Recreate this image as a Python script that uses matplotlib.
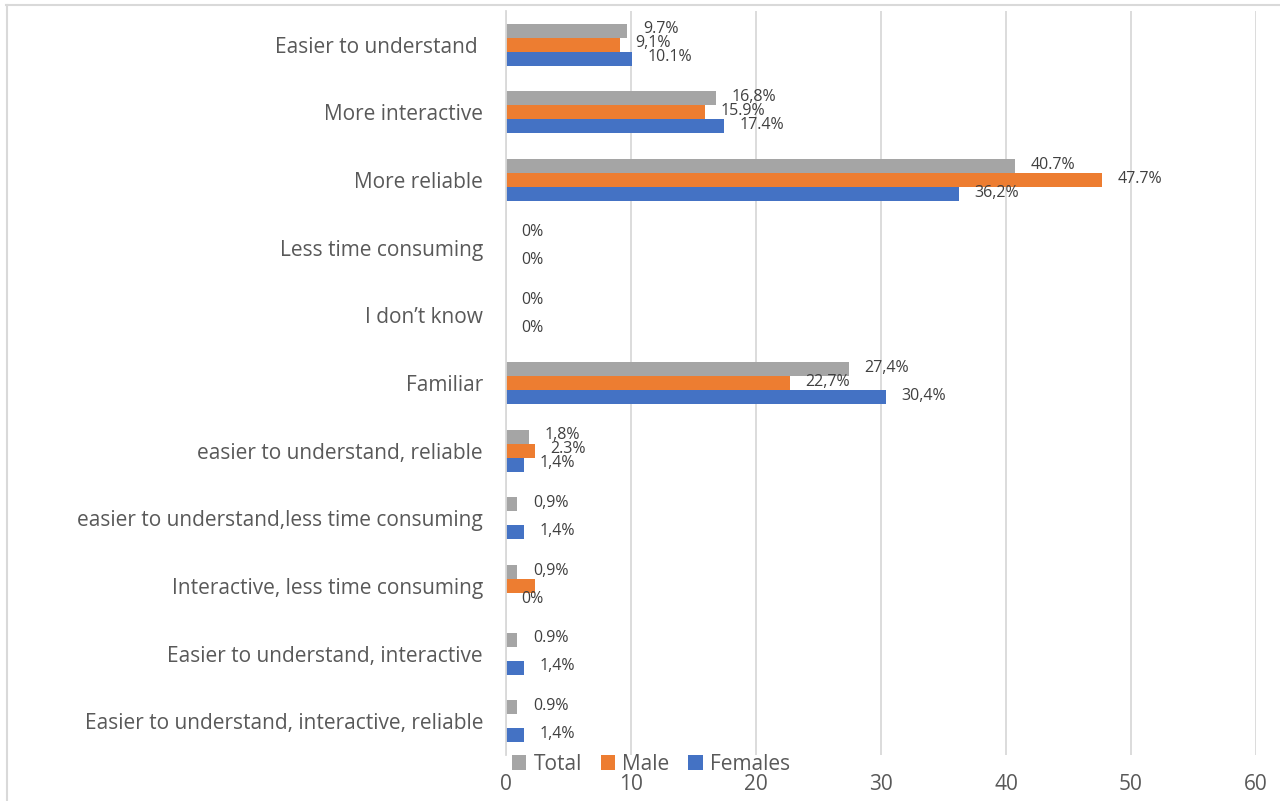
import numpy as np
import matplotlib.pyplot as plt

categories = [
    "Easier to understand ",
    "More interactive",
    "More reliable",
    "Less time consuming",
    "I don\u2019t know",
    "Familiar",
    "easier to understand, reliable",
    "easier to understand,less time consuming",
    "Interactive, less time consuming",
    "Easier to understand, interactive",
    "Easier to understand, interactive, reliable",
]

total = [9.7, 16.8, 40.7, 0, 0, 27.4, 1.8, 0.9, 0.9, 0.9, 0.9]
male = [9.1, 15.9, 47.7, np.nan, np.nan, 22.7, 2.3, np.nan, 2.3, np.nan, np.nan]
females = [10.1, 17.4, 36.2, 0, 0, 30.4, 1.4, 1.4, 0, 1.4, 1.4]

total_labels = ["9.7%", "16,8%", "40.7%", "0%", "0%", "27,4%", "1,8%", "0,9%", "0,9%", "0.9%", "0.9%"]
male_labels = ["9,1%", "15.9%", "47.7%", "", "", "22,7%", "2.3%", "", "", "", ""]
female_labels = ["10.1%", "17.4%", "36,2%", "0%", "0%", "30,4%", "1,4%", "1,4%", "0%", "1,4%", "1,4%"]

xticks = [0, 10, 20, 30, 40, 50, 60]

plt.rcParams['font.family'] = ['Open Sans', 'DejaVu Sans']
txt = "#595959"

fig = plt.figure(figsize=(12.8, 8.01), dpi=100)
ax = fig.add_axes([506/1280, 1 - 755/801, 750/1280, 744/801])

y = np.arange(len(categories))
h = 0.207
series = [
    (total, total_labels, "#a5a5a5", "Total", -h),
    (male, male_labels, "#ed7d31", "Male", 0),
    (females, female_labels, "#4472c4", "Females", h),
]
for vals, labs, col, name, off in series:
    v = np.array(vals, dtype=float)
    ax.barh(y + off, np.nan_to_num(v), height=h, color=col, label=name)
    for i in range(len(v)):
        if labs[i]:
            ax.text(v[i] + 1.25, y[i] + off - 0.02, labs[i], va="center", ha="left",
                    fontsize=11.5, color="#404040")

ax.set_ylim(len(categories) - 0.5, -0.5)
ax.set_xlim(0, 60)
ax.set_xticks(xticks)
ax.set_yticks(y)
ax.set_yticklabels(categories, fontsize=15, color=txt)
ax.tick_params(axis="x", length=0, pad=14, labelsize=15, labelcolor=txt)
ax.tick_params(axis="y", length=0, pad=16.5)
ax.grid(axis="x", color="#d9d9d9", linewidth=1.3)
ax.set_axisbelow(True)
for s in ["top", "right", "bottom"]:
    ax.spines[s].set_visible(False)
ax.spines["left"].set_color("#d9d9d9")
ax.spines["left"].set_linewidth(1.3)

fig.legend(loc="center", bbox_to_anchor=(651/1280, 1 - 764/801), ncol=3,
           frameon=False, fontsize=15, handlelength=0.7, handleheight=0.7,
           handletextpad=0.35, columnspacing=0.9, labelcolor=txt)

# outer frame: top and left edges only
fig.add_artist(plt.Line2D([6/1280, 1], [1 - 5/801, 1 - 5/801], color="#d9d9d9", lw=1.5))
fig.add_artist(plt.Line2D([6.5/1280, 6.5/1280], [0, 1 - 5/801], color="#d9d9d9", lw=1.5))

fig.savefig("out.png", dpi=100)
